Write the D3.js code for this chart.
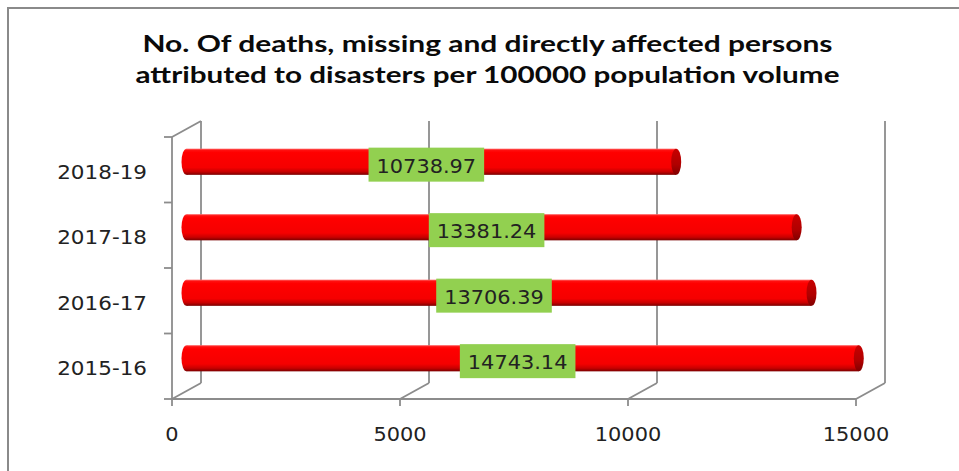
<!DOCTYPE html>
<html>
<head>
<meta charset="utf-8">
<script src="https://cdn.jsdelivr.net/npm/d3@7/dist/d3.min.js"></script>
<style>
  html, body { margin: 0; padding: 0; background: #ffffff; }
  svg { display: block; }
</style>
</head>
<body>
<svg id="chart" width="959" height="471"></svg>
<script>
// ---- data ----
const titleLines = [
  "No. Of deaths, missing and directly affected persons",
  "attributed to disasters per 100000 population volume"
];
const categories = ["2015-16", "2016-17", "2017-18", "2018-19"];
const values = [14743.14, 13706.39, 13381.24, 10738.97];
const valueLabels = ["14743.14", "13706.39", "13381.24", "10738.97"];
const xTicks = [0, 5000, 10000, 15000];

// ---- layout ----
const svg = d3.select("#chart");
const depthX = 29, depthY = -16;
const gridColor = "#8c8c8c";
const FONT = "'DejaVu Sans', Verdana, sans-serif";

const x = d3.scaleLinear().domain([0, 15000]).range([172, 856]);
const y = d3.scaleBand().domain(categories.slice().reverse()).range([137, 399]).padding(0);

// target rendered width of a string (wide, Verdana-like look of the reference)
function targetWidth(s) {
  let w = 0;
  for (const ch of s) w += (ch === ".") ? 6.5 : (ch === "-") ? 10 : 13.3;
  return w;
}
function fitText(sel) {
  sel.attr("textLength", function() { return targetWidth(this.textContent); })
     .attr("lengthAdjust", "spacingAndGlyphs");
}

// outer border
svg.append("rect")
  .attr("x", 8).attr("y", 8).attr("width", 1000).attr("height", 500)
  .attr("fill", "#ffffff").attr("stroke", "#8a8a8a").attr("stroke-width", 2);

// gradients
const defs = svg.append("defs");
const g1 = defs.append("linearGradient").attr("id", "cyl").attr("x1", 0).attr("y1", 0).attr("x2", 0).attr("y2", 1);
[[0, "#ff7070"], [0.06, "#ff1010"], [0.15, "#ff0000"], [0.72, "#f50000"], [0.88, "#c80000"], [1, "#7a0000"]]
  .forEach(([o, c]) => g1.append("stop").attr("offset", o).attr("stop-color", c));
const g2 = defs.append("linearGradient").attr("id", "cap").attr("x1", 0).attr("y1", 0).attr("x2", 0).attr("y2", 1);
[[0, "#c80000"], [0.6, "#b00000"], [1, "#800000"]]
  .forEach(([o, c]) => g2.append("stop").attr("offset", o).attr("stop-color", c));

// title
const titleWidths = [690, 704];
const titleY = [52, 83];
titleLines.forEach((t, i) => {
  svg.append("text")
    .attr("x", 487.5).attr("y", titleY[i])
    .attr("text-anchor", "middle")
    .attr("font-family", "Lato, 'Open Sans', sans-serif")
    .attr("font-weight", 700)
    .attr("font-size", 22)
    .attr("fill", "#0a0a0a")
    .attr("textLength", titleWidths[i])
    .attr("lengthAdjust", "spacingAndGlyphs")
    .text(t);
});

// grid / walls
const grid = svg.append("g").attr("stroke", gridColor).attr("stroke-width", 1.8).attr("fill", "none");
const yTop = y.range()[0], yBot = y.range()[1];
xTicks.forEach(t => {
  grid.append("line")
    .attr("x1", x(t) + depthX).attr("x2", x(t) + depthX)
    .attr("y1", yTop + depthY).attr("y2", yBot + depthY);
  grid.append("line")
    .attr("x1", x(t)).attr("y1", yBot)
    .attr("x2", x(t) + depthX).attr("y2", yBot + depthY);
  grid.append("line")
    .attr("x1", x(t)).attr("x2", x(t))
    .attr("y1", yBot).attr("y2", yBot + 7);
});
grid.append("line").attr("x1", x(0)).attr("x2", x(15000)).attr("y1", yBot).attr("y2", yBot);
grid.append("line").attr("x1", x(0)).attr("x2", x(0)).attr("y1", yTop).attr("y2", yBot);
grid.append("line").attr("x1", x(0)).attr("y1", yTop).attr("x2", x(0) + depthX).attr("y2", yTop + depthY);
const bounds = y.domain().map(c => y(c)).concat([yBot]);
bounds.forEach(b => {
  grid.append("line").attr("x1", x(0) - 8).attr("x2", x(0)).attr("y1", b).attr("y2", b);
});

// x tick labels
svg.append("g").selectAll("text").data(xTicks).join("text")
  .attr("x", d => x(d)).attr("y", 441)
  .attr("text-anchor", "middle")
  .attr("font-family", FONT)
  .attr("font-size", 19)
  .attr("fill", "#222")
  .text(d => d3.format("d")(d))
  .call(fitText);

// category labels
svg.append("g").selectAll("text").data(categories).join("text")
  .attr("x", 147).attr("y", d => y(d) + y.bandwidth() / 2 + 9)
  .attr("text-anchor", "end")
  .attr("font-family", FONT)
  .attr("font-size", 19)
  .attr("fill", "#222")
  .text(d => d)
  .call(fitText);

// bars (cylinders)
const barH = y.bandwidth() * 0.4;
const rx = 5;
const bars = svg.append("g");
const rows = categories.map((c, i) => ({ c, v: values[i], label: valueLabels[i] }));
rows.forEach(r => {
  const cy = y(r.c) + y.bandwidth() / 2 + depthY / 2;
  const x0 = x(0) + depthX / 2;
  const x1 = x(r.v) + depthX / 2;
  const g = bars.append("g");
  g.append("ellipse").attr("cx", x0).attr("cy", cy).attr("rx", rx).attr("ry", barH / 2).attr("fill", "url(#cyl)");
  g.append("rect").attr("x", x0).attr("y", cy - barH / 2).attr("width", x1 - x0).attr("height", barH).attr("fill", "url(#cyl)");
  g.append("ellipse").attr("cx", x1).attr("cy", cy).attr("rx", rx).attr("ry", barH / 2).attr("fill", "url(#cap)");

  const cx = (x0 + x1) / 2 - 5;
  const top = cy - barH / 2 - 1;
  const tw = targetWidth(r.label);
  const bw = tw + 16;
  bars.append("rect").attr("fill", "#92d050")
    .attr("x", cx - bw / 2).attr("y", top).attr("width", bw).attr("height", 34);
  bars.append("text")
    .attr("x", cx).attr("y", top + 25)
    .attr("text-anchor", "middle")
    .attr("font-family", FONT)
    .attr("font-size", 19)
    .attr("fill", "#222")
    .text(r.label)
    .call(fitText);
});
</script>
</body>
</html>
